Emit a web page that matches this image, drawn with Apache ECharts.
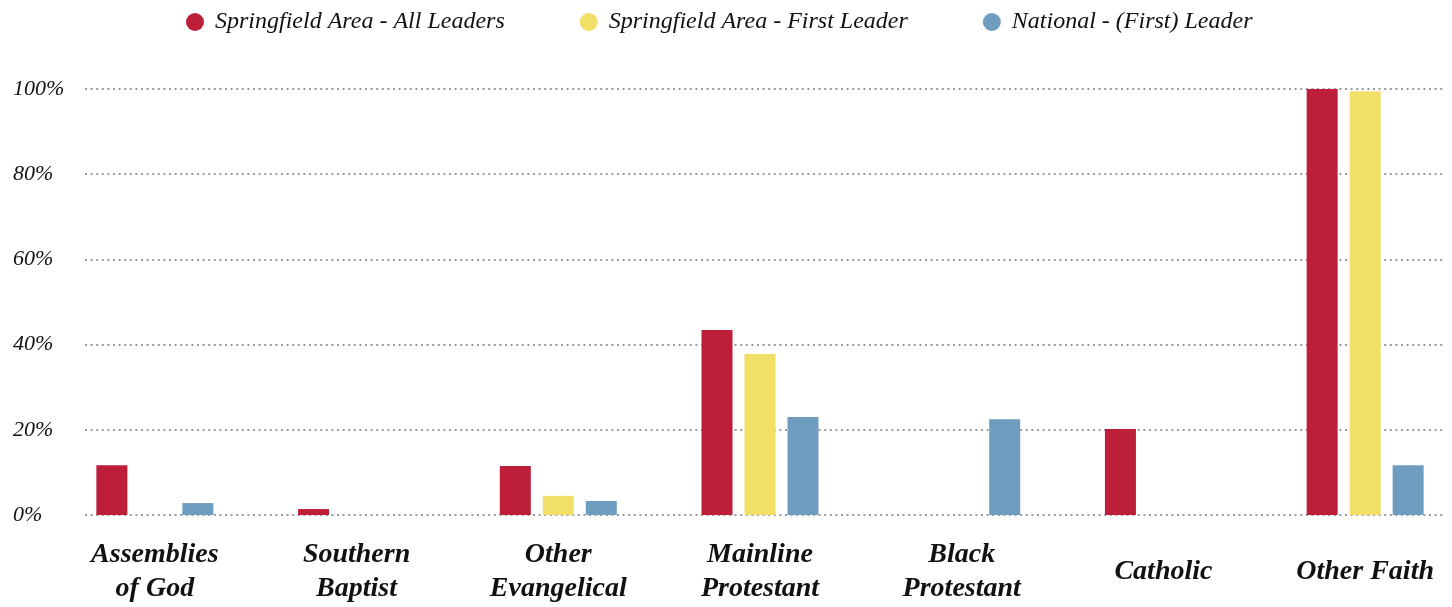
<!DOCTYPE html>
<html>
<head>
<meta charset="utf-8">
<script src="https://cdn.jsdelivr.net/npm/echarts@6/dist/echarts.min.js"></script>
<style>
html,body{margin:0;padding:0;background:#fff;}
#chart{width:1452px;height:607px;}
</style>
</head>
<body>
<div id="chart"></div>
<script>
const categories = ["Assemblies\nof God", "Southern\nBaptist", "Other\nEvangelical", "Mainline\nProtestant", "Black\nProtestant", "Catholic", "Other Faith"];
const seriesNames = ["Springfield Area - All Leaders", "Springfield Area - First Leader", "National - (First) Leader"];
const allLeaders = [11.7, 1.4, 11.5, 43.4, 0, 20.2, 100];
const firstLeader = [0, 0, 4.5, 37.8, 0, 0, 99.5];
const national = [2.8, 0, 3.3, 23.0, 22.5, 0, 11.7];
const yTicks = [0, 20, 40, 60, 80, 100];
const colors = ["#BD1E3A", "#F2DF68", "#6F9DBF"];

const font = "Liberation Serif";
const chart = echarts.init(document.getElementById('chart'), null, {renderer: 'canvas'});
chart.setOption({
  animation: false,
  legend: {
    top: 5,
    left: 181,
    icon: 'circle',
    itemWidth: 18,
    itemHeight: 18,
    itemGap: 75,
    data: seriesNames,
    textStyle: {fontFamily: font, fontStyle: 'italic', fontSize: 24, color: '#111', padding: [0, 0, 0, 6]}
  },
  grid: [
    {left: 54, width: 1412, top: 89, height: 426, containLabel: false, outerBoundsMode: 'none'},
    {left: 85, right: 8, top: 89, height: 426, containLabel: false, outerBoundsMode: 'none'}
  ],
  xAxis: [
    {
      type: 'category', gridIndex: 0, data: categories,
      axisLine: {show: false}, axisTick: {show: false},
      axisLabel: {
        interval: 0, margin: 57, verticalAlign: 'middle',
        fontFamily: font, fontStyle: 'italic', fontWeight: 'bold', fontSize: 28, lineHeight: 34, color: '#111'
      }
    },
    {type: 'value', gridIndex: 1, show: false, min: 0, max: 1}
  ],
  yAxis: [
    {type: 'value', gridIndex: 0, min: 0, max: 100, show: false, splitLine: {show: false}},
    {
      type: 'value', gridIndex: 1, min: yTicks[0], max: yTicks[yTicks.length - 1], interval: 20,
      axisLine: {show: false}, axisTick: {show: false},
      axisLabel: {
        align: 'left', margin: 72,
        fontFamily: font, fontStyle: 'italic', fontSize: 22, color: '#111',
        formatter: v => v + '%'
      },
      splitLine: {show: true, lineStyle: {color: '#9a9a9a', width: 2, type: [2, 3.6]}}
    }
  ],
  series: [allLeaders, firstLeader, national].map((d, i) => ({
    name: seriesNames[i],
    type: 'bar',
    xAxisIndex: 0, yAxisIndex: 0,
    data: d,
    barWidth: 31,
    barGap: '38.7%',
    itemStyle: {color: colors[i]}
  }))
});
</script>
</body>
</html>
